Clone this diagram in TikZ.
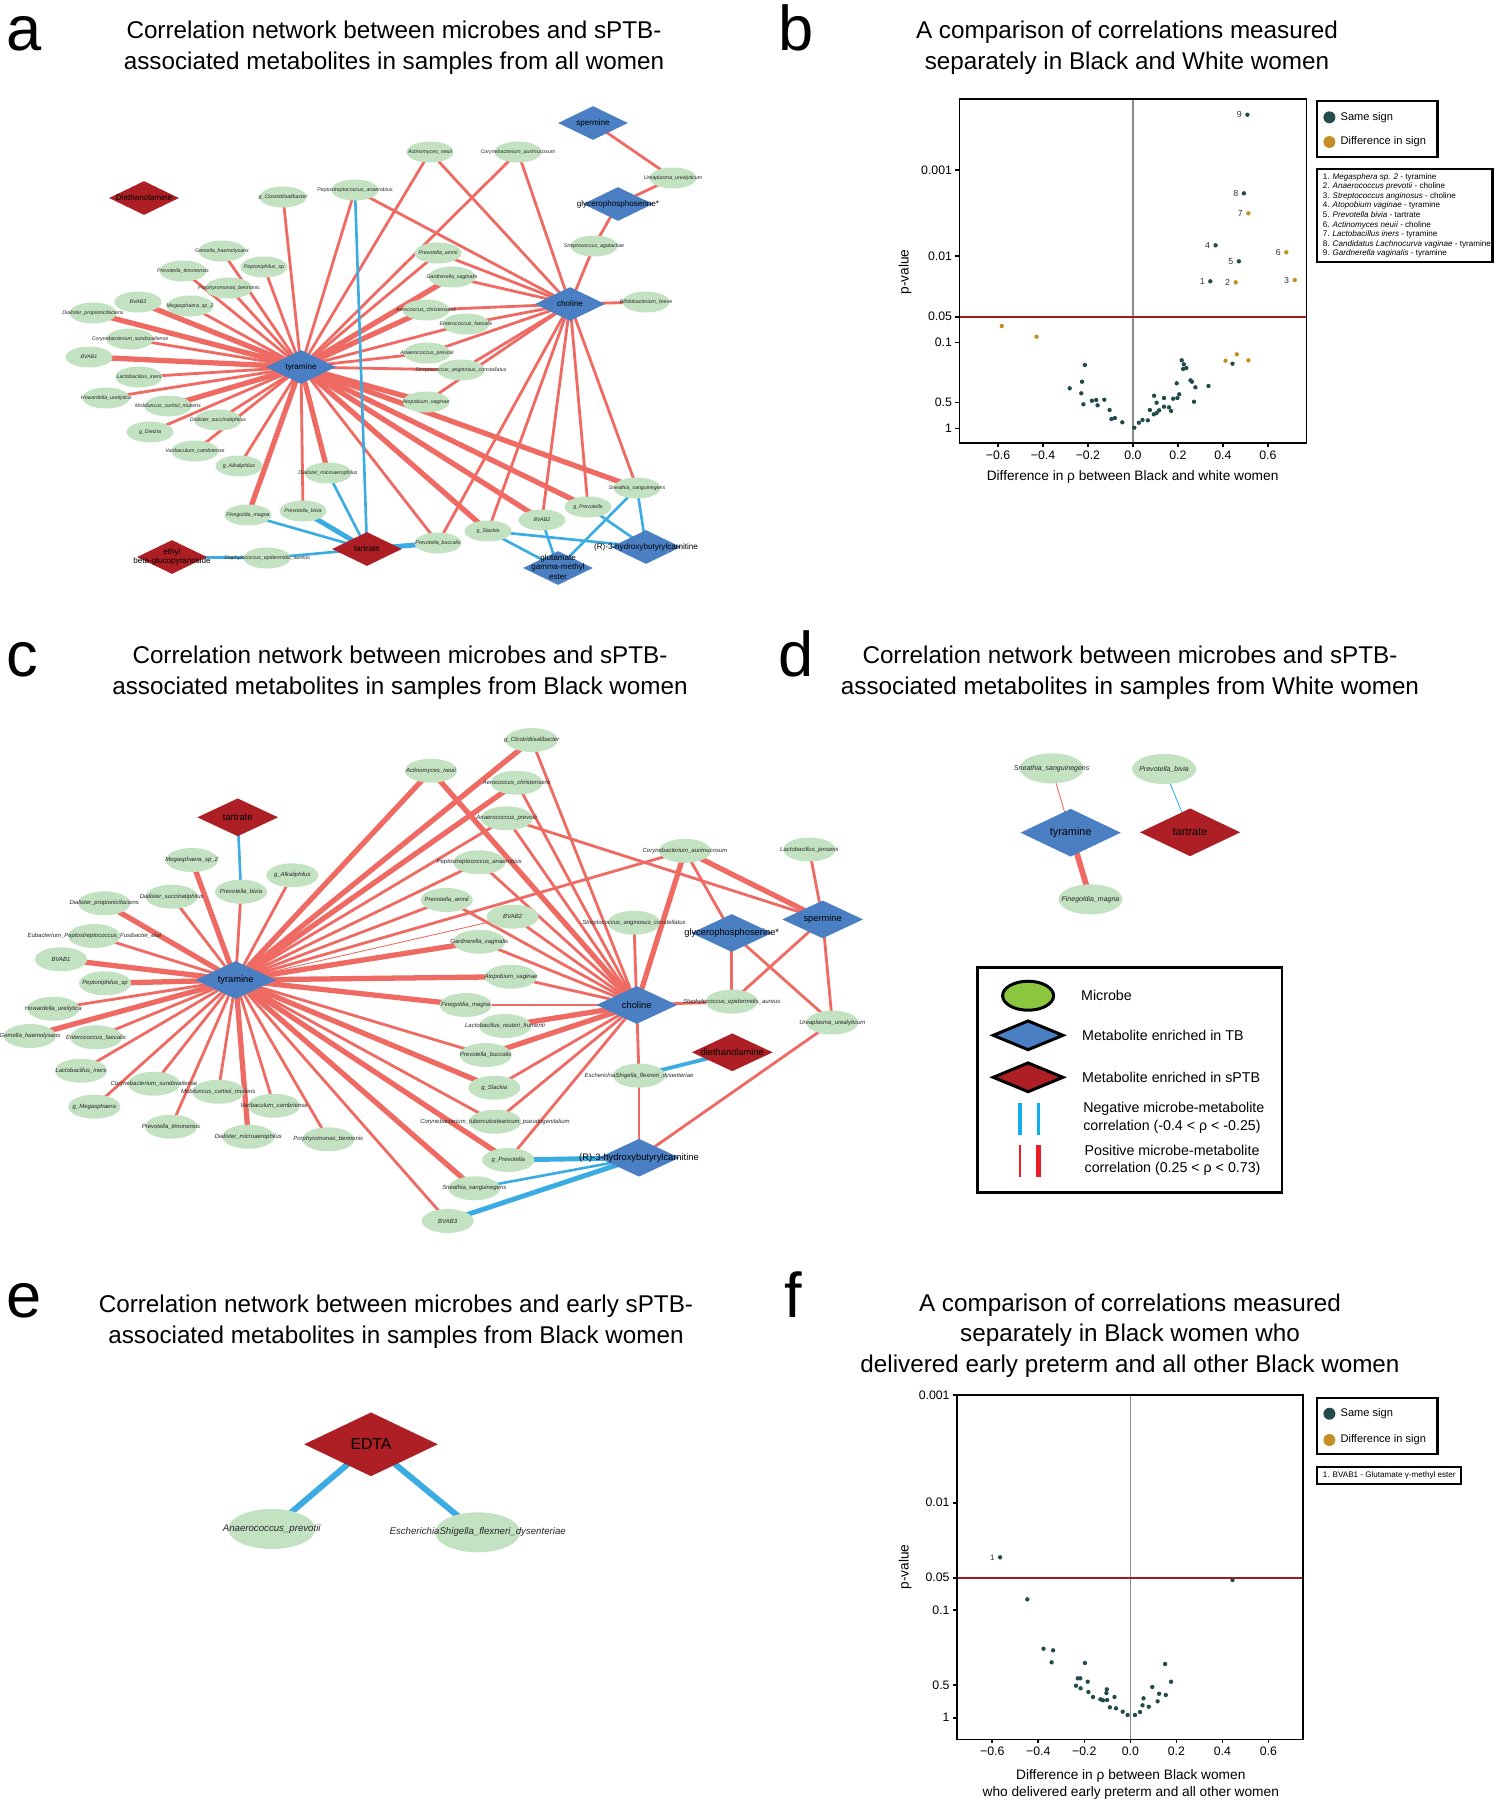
\documentclass[tikz,border=0pt]{standalone}
\usepackage{fontspec}
\setmainfont{Liberation Sans}
\usepackage{xcolor}
\usetikzlibrary{shapes.geometric}
\definecolor{posred}{HTML}{EF6A62}
\definecolor{negblue}{HTML}{3AACE2}
\definecolor{micgreen}{HTML}{C2E2C2}
\definecolor{tbblue}{HTML}{4A80C3}
\definecolor{sptbred}{HTML}{AD1F24}
\definecolor{samesign}{HTML}{244B4B}
\definecolor{diffsign}{HTML}{C48E24}
\definecolor{leggreen}{HTML}{8CC63F}
\definecolor{legblue}{HTML}{10AEEF}
\definecolor{legred}{HTML}{ED1C24}
\definecolor{plinered}{HTML}{9E1B1E}
\definecolor{zerogray}{HTML}{8C8C8C}
\pgfdeclarelayer{bg}
\pgfsetlayers{bg,main}
\newcommand{\nm}[1]{\makebox[0pt]{#1}}
\newcommand{\nml}[1]{\makebox[0pt]{\begin{tabular}{@{}c@{}}#1\end{tabular}}}
\tikzset{
  letter/.style={anchor=base west, inner sep=0pt, font=\fontsize{36}{36}\selectfont},
  ttl/.style={align=center, inner sep=0pt, font=\fontsize{13.8}{17.5}\selectfont},
  mic/.style={ellipse, fill=micgreen, inner sep=0pt, text=black!85},
  amic/.style={mic, minimum width=0.94cm, minimum height=0.42cm, font=\fontsize{3}{3.6}\selectfont\itshape},
  cmic/.style={mic, minimum width=1.04cm, minimum height=0.48cm, font=\fontsize{3.4}{4}\selectfont\itshape},
  dmic/.style={mic, minimum width=1.28cm, minimum height=0.6cm, font=\fontsize{4}{4.8}\selectfont\itshape},
  emic/.style={mic, minimum width=1.74cm, minimum height=0.8cm, font=\fontsize{5.5}{6.5}\selectfont\itshape},
  tb/.style={diamond, fill=tbblue, inner sep=0pt},
  sptb/.style={diamond, fill=sptbred, inner sep=0pt},
  amet/.style={minimum width=1.4cm, minimum height=0.68cm, font=\fontsize{4.6}{5.3}\selectfont},
  cmet/.style={minimum width=1.62cm, minimum height=0.76cm, font=\fontsize{5.3}{6}\selectfont},
  dmet/.style={minimum width=2.01cm, minimum height=0.96cm, font=\fontsize{6.2}{7}\selectfont},
  posedge/.style={posred, line width=1.6pt},
  posfat/.style={posred, line width=3pt},
  posslim/.style={posred, line width=0.5pt},
  negedge/.style={negblue, line width=1.5pt},
  negfat/.style={negblue, line width=2.8pt},
  negslim/.style={negblue, line width=0.5pt},
  axframe/.style={black, line width=0.9pt},
  ticklab/.style={inner sep=1.5pt, font=\fontsize{7}{8}\selectfont},
  axlab/.style={inner sep=0pt, align=center, font=\fontsize{7.8}{9.4}\selectfont},
  keytxt/.style={anchor=west, inner sep=0pt, font=\fontsize{6.3}{7}\selectfont},
  smalltxt/.style={anchor=north west, inner sep=0pt, align=left, font=\fontsize{4.6}{5.45}\selectfont},
  numlab/.style={left=3pt, inner sep=0pt, text=black!80, font=\fontsize{5}{6}\selectfont},
  legtxt/.style={anchor=west, inner sep=0pt, align=left, font=\fontsize{8.1}{10}\selectfont},
}

\begin{document}
\begin{tikzpicture}[x=0.02cm, y=-0.02cm]
  \useasboundingbox (0,0) rectangle (1494,1800);

  % panel letters and titles
  \node[letter] (la) at (6,50) {a};
  \node[letter] (lb) at (778,50) {b};
  \node[letter] (lc) at (6,676) {c};
  \node[letter] (ld) at (778,676) {d};
  \node[letter] (le) at (6,1317) {e};
  \node[letter] (lf) at (784,1317) {f};
  \node[ttl] (ta) at (394,47.5) {Correlation network between microbes and sPTB-\\associated metabolites in samples from all women};
  \node[ttl] (tb) at (1127,47.5) {A comparison of correlations measured\\separately in Black and White women};
  \node[ttl] (tc) at (400,673) {Correlation network between microbes and sPTB-\\associated metabolites in samples from Black women};
  \node[ttl] (td) at (1130,673) {Correlation network between microbes and sPTB-\\associated metabolites in samples from White women};
  \node[ttl] (te) at (396,1321.5) {Correlation network between microbes and early sPTB-\\associated metabolites in samples from Black women};
  \node[ttl] (tf) at (1130,1335.7) {A comparison of correlations measured\\separately in Black women who\\delivered early preterm and all other Black women};

  % ---------- panel a ----------
  \node[sptb,amet] (aDiet) at (144,198) {\nm{Diethanolamine}};
  \node[amic] (aClos) at (283,197) {\nm{g\_Clostridiisalibacter}};
  \node[amic] (aPeps) at (355,190) {\nm{Peptostreptococcus\_anaerobius}};
  \node[amic] (aGeme) at (222,251) {\nm{Gemella\_haemolysans}};
  \node[amic] (aPepn) at (264,267) {\nm{Peptoniphilus\_sp}};
  \node[amic] (aPtim) at (183,271) {\nm{Prevotella\_timonensis}};
  \node[amic] (aPorp) at (229,288) {\nm{Porphyromonas\_bennonis}};
  \node[amic] (aBV3) at (138,302) {\nm{BVAB3}};
  \node[amic] (aMeg) at (190,306) {\nm{Megasphaera\_sp\_2}};
  \node[amic] (aDpro) at (93,313) {\nm{Dialister\_propionicifaciens}};
  \node[amic] (aCsun) at (130,339) {\nm{Corynebacterium\_sundsvallense}};
  \node[amic] (aBV1) at (89,357) {\nm{BVAB1}};
  \node[tb,amet] (aTyr) at (301,367) {\nm{tyramine}};
  \node[amic] (aLine) at (139,377) {\nm{Lactobacillus\_iners}};
  \node[amic] (aHow) at (106,398) {\nm{Howardella\_ureilytica}};
  \node[amic] (aMob) at (168,406) {\nm{Mobiluncus\_curtisii\_mulieris}};
  \node[amic] (aDsuc) at (218,420) {\nm{Dialister\_succinatiphilus}};
  \node[amic] (aDie) at (150,432) {\nm{g\_Dietzia}};
  \node[amic] (aVar) at (195,451) {\nm{Varibaculum\_cambriense}};
  \node[amic] (aAlk) at (239,466) {\nm{g\_Alkaliphilus}};
  \node[amic] (aDmic) at (328,473) {\nm{Dialister\_microaerophilus}};
  \node[amic] (aFin) at (248,515) {\nm{Finegoldia\_magna}};
  \node[amic] (aPbiv) at (303,511) {\nm{Prevotella\_bivia}};
  \node[sptb,amet] (aTart) at (367,549) {\nm{tartrate}};
  \node[sptb,amet] (aEthyl) at (172,557) {\nml{ethyl\\beta-glucopyranoside}};
  \node[amic] (aStap) at (267,558) {\nm{Staphylococcus\_epidermidis\_aureus}};
  \node[tb,amet] (aSper) at (593,123) {\nm{spermine}};
  \node[amic] (aAct) at (430,152) {\nm{Actinomyces\_neuii}};
  \node[amic] (aCaur) at (518,152) {\nm{Corynebacterium\_aurimucosum}};
  \node[amic] (aUre) at (673,178) {\nm{Ureaplasma\_urealyticum}};
  \node[tb,amet] (aGlyc) at (618,204) {\nm{glycerophosphoserine*}};
  \node[amic] (aSaga) at (594,246) {\nm{Streptococcus\_agalactiae}};
  \node[amic] (aPamn) at (438,253) {\nm{Prevotella\_amnii}};
  \node[amic] (aGard) at (452,277) {\nm{Gardnerella\_vaginalis}};
  \node[tb,amet] (aChol) at (570,304) {\nm{choline}};
  \node[amic] (aBifi) at (646,302) {\nm{Bifidobacterium\_breve}};
  \node[amic] (aAero) at (426,310) {\nm{Aerococcus\_christensenii}};
  \node[amic] (aEnt) at (466,324) {\nm{Enterococcus\_faecalis}};
  \node[amic] (aAnae) at (427,353) {\nm{Anaerococcus\_prevotii}};
  \node[amic] (aSang) at (461,370) {\nm{Streptococcus\_anginosus\_constellatus}};
  \node[amic] (aAtop) at (426,402) {\nm{Atopobium\_vaginae}};
  \node[amic] (aSnea) at (637,488) {\nm{Sneathia\_sanguinegens}};
  \node[amic] (aGpre) at (588,507) {\nm{g\_Prevotella}};
  \node[amic] (aBV2) at (542,520) {\nm{BVAB2}};
  \node[amic] (aSlac) at (488,531) {\nm{g\_Slackia}};
  \node[amic] (aPbuc) at (438,543) {\nm{Prevotella\_buccalis}};
  \node[tb,amet] (aHyd) at (646,547) {\nm{(R)-3-hydroxybutyrylcarnitine}};
  \node[tb,amet] (aGlut) at (558,568) {\nml{glutamate\\gamma-methyl\\ester}};

  \begin{pgfonlayer}{bg}
    \foreach \m in {aClos,aPeps,aGeme,aPepn,aPtim,aPorp,aMeg,aCsun,aLine,aHow,aDsuc,aDie,aVar,aAlk,aPbiv,aAct,aCaur,aPamn,aEnt,aAnae,aSang,aPbuc}
      \draw[posedge] (aTyr.center) -- (\m.center);
    \foreach \m in {aBV3,aDpro,aBV1,aMob,aFin,aDmic,aGard,aAero,aAtop,aSnea,aGpre,aBV2,aSlac}
      \draw[posfat] (aTyr.center) -- (\m.center);
    \foreach \m in {aPeps,aAct,aCaur,aPamn,aGard,aAero,aEnt,aAnae,aSang,aAtop,aSaga,aBifi,aPbuc,aSlac,aBV2,aGpre,aSnea}
      \draw[posedge] (aChol.center) -- (\m.center);
    \draw[posedge] (aSper.center) -- (aUre.center);
    \draw[posedge] (aUre.center) -- (aGlyc.center);
    \draw[posedge] (aGlyc.center) -- (aSaga.center);
    \foreach \m in {aPeps,aDmic,aFin,aStap}
      \draw[negedge] (aTart.center) -- (\m.center);
    \draw[negfat] (aTart.center) -- (aPbiv.center);
    \draw[negfat] (aTart.center) -- (aPbuc.center);
    \draw[negedge] (aStap.center) -- (aEthyl.center);
    \draw[negedge] (aSlac.center) -- (aGlut.center);
    \draw[negedge] (aSlac.center) -- (aHyd.center);
    \draw[negedge] (aBV2.center) -- (aGlut.center);
    \draw[negedge] (aGpre.center) -- (aHyd.center);
    \draw[negedge] (aSnea.center) -- (aGlut.center);
    \draw[negedge] (aSnea.center) -- (aHyd.center);
  \end{pgfonlayer}

  % ---------- panel b ----------
  \draw[zerogray, line width=0.8pt] (1132.9,99) -- (1132.9,443);
  \draw[plinered, line width=0.9pt] (959.4,316.7) -- (1306.4,316.7);
  \draw[axframe] (959.4,99) rectangle (1306.4,443);
  \foreach \y/\t [count=\i] in {170/0.001,256/0.01,316.7/0.05,342.3/0.1,402.3/0.5,428.3/1}
    \draw[axframe] (959.4,\y) -- (955.4,\y) node[left, ticklab] (by\i) {\t};
  \foreach \x/\t [count=\i] in {998/−0.6,1043/−0.4,1087.9/−0.2,1132.9/0.0,1177.9/0.2,1222.8/0.4,1267.8/0.6}
    \draw[axframe] (\x,443) -- (\x,447) node[below, ticklab] (bx\i) {\t};
  \node[axlab] (bxl) at (1132.6,476.7) {Difference in ρ between Black and white women};
  \node[axlab, rotate=90] (byl) at (905,272) {p-value};
  \foreach \x/\y in {1232.5/363.7,1084.9/365,1181.7/360.3,1183.8/364.3,1186.3/368,1183.1/369,1176.7/383.3,1190.5/380.3,1191.9/381.7,1195.4/387.3,1208.5/386,1194/401.7,1069.7/388.3,1082/381.7,1081.3/393.3,1083.4/404.3,1091.9/400.7,1096.2/400,1097.6/405.3,1104.3/399.7,1109.6/410,1111.4/419,1114.9/418,1122.3/422.3,1134.3/427.7,1138.9/422.7,1142.5/420,1147.8/420.3,1149.9/410,1154.1/395.7,1156.6/402.7,1153.8/414.3,1156.6/413,1159.1/410.3,1164/398,1164/406.7,1169/407.3,1171.1/411,1173.2/398.7,1177.4/398,1179.2/394.3}
    \fill[samesign] (\x,\y) circle (1.25pt);
  \foreach \x/\y in {1001.8/326,1036.5/336.7,1225.5/360.7,1236.8/354.3,1248.4/360.3}
    \fill[diffsign] (\x,\y) circle (1.25pt);
  \fill[samesign] (1247.4,114.7) circle (1.25pt) node[numlab] (b9) {9};
  \fill[samesign] (1243.9,193.3) circle (1.25pt) node[numlab] (b8) {8};
  \fill[diffsign] (1248.4,213.3) circle (1.25pt) node[numlab] (b7) {7};
  \fill[samesign] (1215.6,245.3) circle (1.25pt) node[numlab] (b4) {4};
  \fill[diffsign] (1286.3,252.3) circle (1.25pt) node[numlab] (b6) {6};
  \fill[samesign] (1238.9,261.3) circle (1.25pt) node[numlab] (b5) {5};
  \fill[samesign] (1210.3,281.3) circle (1.25pt) node[numlab] (b1) {1};
  \fill[diffsign] (1235.7,282.3) circle (1.25pt) node[numlab] (b2) {2};
  \fill[diffsign] (1294.7,280) circle (1.25pt) node[numlab] (b3) {3};
  % legend b
  \draw[black, line width=1.2pt] (1317,101) rectangle (1437.5,156.7);
  \fill[samesign] (1329.4,117.3) circle (3.4pt);
  \fill[diffsign] (1329.4,142) circle (3.4pt);
  \node[keytxt] (bk1) at (1340.3,117.3) {Same sign};
  \node[keytxt] (bk2) at (1340.3,142) {Difference in sign};
  \draw[black, line width=1.2pt] (1317,169) rectangle (1492.5,261.7);
  \node[smalltxt] (bkey) at (1322.6,173) {1. \textit{Megasphera sp. 2} - tyramine\\2. \textit{Anaerococcus prevotii} - choline\\3. \textit{Streptococcus anginosus} - choline\\4. \textit{Atopobium vaginae} - tyramine\\5. \textit{Prevotella bivia} - tartrate\\6. \textit{Actinomyces neuii} - choline\\7. \textit{Lactobacillus iners} - tyramine\\8. \textit{Candidatus Lachnocurva vaginae} - tyramine\\9. \textit{Gardnerella vaginalis} - tyramine};

  % ---------- panel c ----------
  \node[sptb,cmet] (cTart) at (237.7,817.3) {\nm{tartrate}};
  \node[cmic] (cMeg) at (191.7,860) {\nm{Megasphaera\_sp\_2}};
  \node[cmic] (cAlk) at (292.3,875.3) {\nm{g\_Alkaliphilus}};
  \node[cmic] (cPbiv) at (241,891.7) {\nm{Prevotella\_bivia}};
  \node[cmic] (cDsuc) at (171.7,896.7) {\nm{Dialister\_succinatiphilus}};
  \node[cmic] (cDpro) at (104.3,903.3) {\nm{Dialister\_propionicifaciens}};
  \node[cmic] (cEub) at (94.3,936) {\nm{Eubacterium\_Peptostreptococcus\_Fusibacter\_etal}};
  \node[cmic] (cBV1) at (61,959.3) {\nm{BVAB1}};
  \node[tb,cmet] (cTyr) at (235.7,980) {\nm{tyramine}};
  \node[cmic] (cPepn) at (105,983.3) {\nm{Peptoniphilus\_sp}};
  \node[cmic] (cHow) at (53.3,1008.7) {\nm{Howardella\_ureilytica}};
  \node[cmic] (cGeme) at (30,1036) {\nm{Gemella\_haemolysans}};
  \node[cmic] (cEnt) at (96,1037.3) {\nm{Enterococcus\_faecalis}};
  \node[cmic] (cLine) at (81,1070.7) {\nm{Lactobacillus\_iners}};
  \node[cmic] (cCsun) at (154,1083.7) {\nm{Corynebacterium\_sundsvallense}};
  \node[cmic] (cMob) at (218.3,1091.7) {\nm{Mobiluncus\_curtisii\_mulieris}};
  \node[cmic] (cGmeg) at (94.3,1106.7) {\nm{g\_Megasphaera}};
  \node[cmic] (cVar) at (274,1105.7) {\nm{Varibaculum\_cambriense}};
  \node[cmic] (cPtim) at (171,1126.7) {\nm{Prevotella\_timonensis}};
  \node[cmic] (cDmic) at (248.3,1136.7) {\nm{Dialister\_microaerophilus}};
  \node[cmic] (cPorp) at (328.3,1139.3) {\nm{Porphyromonas\_bennonis}};
  \node[cmic] (cClos) at (531.7,740) {\nm{g\_Clostridiisalibacter}};
  \node[cmic] (cAct) at (431,770.7) {\nm{Actinomyces\_neuii}};
  \node[cmic] (cAero) at (516.7,782.7) {\nm{Aerococcus\_christensenii}};
  \node[cmic] (cAnae) at (506.7,818.3) {\nm{Anaerococcus\_prevotii}};
  \node[cmic] (cPeps) at (479.3,862.3) {\nm{Peptostreptococcus\_anaerobius}};
  \node[cmic] (cPamn) at (446.7,900) {\nm{Prevotella\_amnii}};
  \node[cmic] (cBV2) at (512.7,916.7) {\nm{BVAB2}};
  \node[cmic] (cGard) at (479.3,941.7) {\nm{Gardnerella\_vaginalis}};
  \node[cmic] (cAtop) at (511,976.7) {\nm{Atopobium\_vaginae}};
  \node[cmic] (cFin) at (465.7,1005) {\nm{Finegoldia\_magna}};
  \node[cmic] (cLreu) at (505,1026) {\nm{Lactobacillus\_reuteri\_frumenti}};
  \node[cmic] (cPbuc) at (485.7,1055) {\nm{Prevotella\_buccalis}};
  \node[cmic] (cSlac) at (494.3,1087.7) {\nm{g\_Slackia}};
  \node[cmic] (cCtub) at (495,1121.7) {\nm{Corynebacterium\_tuberculostearicum\_pseudogenitalium}};
  \node[cmic] (cGpre) at (508.3,1160) {\nm{g\_Prevotella}};
  \node[cmic] (cSnea) at (474.3,1188.3) {\nm{Sneathia\_sanguinegens}};
  \node[cmic] (cBV3) at (447.7,1221) {\nm{BVAB3}};
  \node[tb,cmet] (cChol) at (636.7,1005) {\nm{choline}};
  \node[cmic] (cSang) at (634,922.7) {\nm{Streptococcus\_anginosus\_constellatus}};
  \node[cmic] (cCaur) at (685,850.8) {\nm{Corynebacterium\_aurimucosum}};
  \node[cmic] (cLjen) at (809.3,849.5) {\nm{Lactobacillus\_jensenii}};
  \node[tb,cmet] (cGlyc) at (731.7,933) {\nm{glycerophosphoserine*}};
  \node[tb,cmet] (cSper) at (822.7,919.4) {\nm{spermine}};
  \node[cmic] (cStap) at (731.7,1001.6) {\nm{Staphylococcus\_epidermidis\_aureus}};
  \node[cmic] (cUre) at (832.3,1022.5) {\nm{Ureaplasma\_urealyticum}};
  \node[sptb,cmet] (cDiet) at (732.3,1052.3) {\nm{diethanolamine}};
  \node[cmic] (cEsch) at (639,1075.6) {\nm{EscherichiaShigella\_flexneri\_dysenteriae}};
  \node[tb,cmet] (cHyd) at (639,1157.7) {\nm{(R)-3-hydroxybutyrylcarnitine}};

  \begin{pgfonlayer}{bg}
    \foreach \m in {cAlk,cPbiv,cDsuc,cEub,cHow,cEnt,cLine,cCsun,cMob,cGmeg,cVar,cPtim,cPorp,cAnae,cPeps,cPamn,cPbuc,cCtub,cBV3,cCaur}
      \draw[posedge] (cTyr.center) -- (\m.center);
    \foreach \m in {cMeg,cDpro,cBV1,cPepn,cGeme,cDmic,cAct,cClos,cAero,cGard,cAtop,cFin,cSlac,cGpre,cSnea}
      \draw[posfat] (cTyr.center) -- (\m.center);
    \draw[posslim] (cTyr.center) -- (cBV2.center);
    \foreach \m in {cClos,cAero,cAnae,cPeps,cPamn,cBV2,cGard,cAtop,cFin,cSlac,cCtub,cGpre,cSang,cStap,cEsch}
      \draw[posedge] (cChol.center) -- (\m.center);
    \foreach \m in {cAct,cLreu,cPbuc,cCaur}
      \draw[posfat] (cChol.center) -- (\m.center);
    \draw[posedge] (cAnae.center) -- (cSper.center);
    \draw[posfat] (cCaur.center) -- (cSper.center);
    \draw[posedge] (cCaur.center) -- (cGlyc.center);
    \draw[posedge] (cLjen.center) -- (cSper.center);
    \draw[posedge] (cSper.center) -- (cStap.center);
    \draw[posedge] (cSper.center) -- (cUre.center);
    \draw[posedge] (cGlyc.center) -- (cStap.center);
    \draw[posedge] (cGlyc.center) -- (cUre.center);
    \draw[posedge] (cUre.center) -- (cHyd.center);
    \draw[posedge] (cEsch.center) -- (cHyd.center);
    \draw[negedge] (cTart.center) -- (cPbiv.center);
    \draw[negedge, line width=2.2pt] (cDiet.center) -- (cEsch.center);
    \draw[negfat] (cHyd.center) -- (cGpre.center);
    \draw[negedge] (cHyd.center) -- (cSnea.center);
    \draw[negfat] (cHyd.center) -- (cBV3.center);
  \end{pgfonlayer}

  % ---------- panel d ----------
  \node[dmic] (dSnea) at (1051.7,768.3) {\nm{Sneathia\_sanguinegens}};
  \node[dmic] (dPbiv) at (1164.1,769) {\nm{Prevotella\_bivia}};
  \node[tb,dmet] (dTyr) at (1070.7,832.7) {\nm{tyramine}};
  \node[sptb,dmet] (dTart) at (1190.1,832.3) {\nm{tartrate}};
  \node[dmic] (dFin) at (1090.5,899.3) {\nm{Finegoldia\_magna}};
  \begin{pgfonlayer}{bg}
    \draw[posslim] (dSnea.center) -- (dTyr.center);
    \draw[negslim] (dPbiv.center) -- (dTart.center);
    \draw[posred, line width=3.3pt] (dTyr.center) -- (dFin.center);
  \end{pgfonlayer}
  % legend
  \draw[black, line width=1.5pt] (977.8,967.3) rectangle (1282,1192.7);
  \node[ellipse, draw=black, line width=1.7pt, fill=leggreen, minimum width=1.02cm, minimum height=0.58cm] (lgMic) at (1028.1,995.7) {};
  \node[diamond, draw=black, line width=1.7pt, fill=tbblue, minimum width=1.42cm, minimum height=0.6cm, inner sep=0pt] (lgTB) at (1028.1,1035.3) {};
  \node[diamond, draw=black, line width=1.7pt, fill=sptbred, minimum width=1.42cm, minimum height=0.6cm, inner sep=0pt] (lgPTB) at (1028.1,1077.3) {};
  \draw[legblue, line width=1.9pt] (1020.1,1103.3) -- (1020.1,1135);
  \draw[legblue, line width=1.2pt] (1038.5,1103.3) -- (1038.5,1135);
  \draw[legred, line width=1.3pt] (1020.1,1145) -- (1020.1,1176.7);
  \draw[legred, line width=3.2pt] (1038.5,1145) -- (1038.5,1176.7);
  \node[legtxt] (lt1) at (1080.8,995.7) {Microbe};
  \node[legtxt] (lt2) at (1081.8,1035.3) {Metabolite enriched in TB};
  \node[legtxt] (lt3) at (1081.8,1077.3) {Metabolite enriched in sPTB};
  \node[legtxt] (lt4) at (1082.9,1118) {Negative microbe-metabolite\\correlation (-0.4 < ρ < -0.25)};
  \node[legtxt] (lt5) at (1084.3,1160.5) {Positive microbe-metabolite\\correlation (0.25 < ρ < 0.73)};

  % ---------- panel e ----------
  \node[sptb, minimum width=2.68cm, minimum height=1.28cm, font=\fontsize{9}{10}\selectfont] (eEDTA) at (371,1444.3) {\nm{EDTA}};
  \node[emic] (eAnae) at (271.7,1529) {\nm{Anaerococcus\_prevotii}};
  \node[emic, minimum width=1.7cm] (eEsch) at (477.7,1532.3) {\nm{EscherichiaShigella\_flexneri\_dysenteriae}};
  \begin{pgfonlayer}{bg}
    \draw[negblue, line width=3.4pt] (eEDTA.center) -- (eAnae.center);
    \draw[negblue, line width=3.4pt] (eEDTA.center) -- (eEsch.center);
  \end{pgfonlayer}

  % ---------- panel f ----------
  \draw[zerogray, line width=0.8pt] (1130.3,1395) -- (1130.3,1739.3);
  \draw[plinered, line width=0.9pt] (957,1577.7) -- (1303.2,1577.7);
  \draw[axframe] (957,1395) rectangle (1303.2,1739.3);
  \foreach \y/\t [count=\i] in {1395/0.001,1502.7/0.01,1577.7/0.05,1610/0.1,1685/0.5,1717.7/1}
    \draw[axframe] (957,\y) -- (953,\y) node[left, ticklab] (fy\i) {\t};
  \foreach \x/\t [count=\i] in {992.2/−0.6,1038.2/−0.4,1084.3/−0.2,1130.3/0.0,1176.3/0.2,1222.4/0.4,1268.4/0.6}
    \draw[axframe] (\x,1739.3) -- (\x,1743.3) node[below, ticklab] (fx\i) {\t};
  \node[axlab] (fxl) at (1130.8,1784.5) {Difference in ρ between Black women\\who delivered early preterm and all other women};
  \node[axlab, rotate=90] (fyl) at (905,1567) {p-value};
  \foreach \x/\y in {1232.5/1580,1027.3/1599.3,1043.5/1648.7,1053.1/1650.3,1051.6/1662.3,1084.9/1663,1165.1/1664,1077.8/1678.3,1080.3/1678.3,1087.7/1681.7,1171.1/1681.7,1076/1685.7,1080.6/1688.3,1152.3/1687,1106.8/1689.3,1106.4/1693,1088.4/1692,1159.1/1693.7,1165.8/1695,1093/1697,1114.5/1697,1143.5/1698.3,1100.4/1699.3,1102.9/1700.3,1107.1/1700,1157.6/1701.3,1142.5/1705.3,1109.9/1707.3,1116/1708.3,1148.8/1706.7,1122.7/1711.7,1140/1712,1127.6/1715,1135/1715}
    \fill[samesign] (\x,\y) circle (1.25pt);
  \fill[samesign] (1000.1,1557.3) circle (1.25pt) node[numlab, font=\fontsize{4.5}{5}\selectfont] (f1) {1};
  % legend f
  \draw[black, line width=1.2pt] (1317,1398.3) rectangle (1437.5,1454);
  \fill[samesign] (1329.4,1413.7) circle (3.4pt);
  \fill[diffsign] (1329.4,1440) circle (3.4pt);
  \node[keytxt] (fk1) at (1340.3,1413.7) {Same sign};
  \node[keytxt] (fk2) at (1340.3,1440) {Difference in sign};
  \draw[black, line width=1.2pt] (1317,1466.7) rectangle (1461.1,1484);
  \node[smalltxt, anchor=west] (fkey) at (1322.6,1475.5) {1. BVAB1 - Glutamate γ-methyl ester};
\end{tikzpicture}
\end{document}
